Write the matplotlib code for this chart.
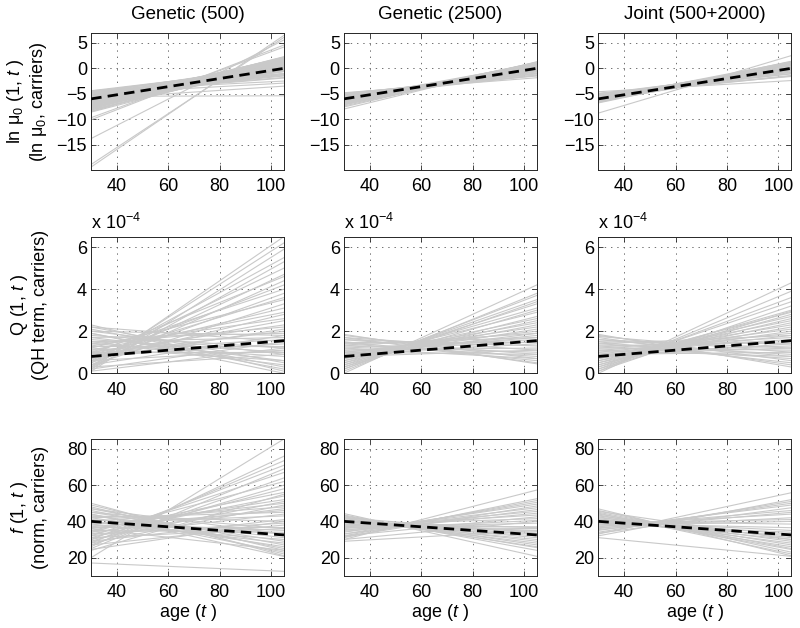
import numpy as np
import matplotlib
matplotlib.use("Agg")
import matplotlib.pyplot as plt
from matplotlib.ticker import FixedLocator

plt.rcParams['font.family'] = ['Liberation Sans', 'DejaVu Sans']
plt.rcParams['mathtext.fontset'] = 'custom'
plt.rcParams['mathtext.rm'] = 'Liberation Sans'
plt.rcParams['mathtext.it'] = 'Liberation Sans:italic'
plt.rcParams['lines.scale_dashes'] = False

# ---------------- data ----------------
age_range = [30, 105]
column_titles = ["Genetic (500)", "Genetic (2500)", "Joint (500+2000)"]

# true trajectories (value at age 30, value at age 105)
true_lnmu = [-6.0, 0.0]
true_q = [0.8, 1.55]          # in units of 1e-4
true_f = [40.0, 32.5]

# ---- ln mu0, Genetic (500): start (age 30), end (age 105)
lnmu_g500_start = [-4.4, -4.6, -4.8, -5.0, -5.2, -5.3, -5.5, -5.6, -5.8, -5.9, -6.0, -6.2,
                   -6.3, -6.4, -6.6, -6.7, -6.9, -7.0, -7.1, -7.3, -7.4, -7.6, -7.7, -7.9,
                   -8.0, -8.2, -8.4, -8.6, -4.5, -4.9, -5.1, -5.4, -5.7, -6.1, -6.5, -6.8,
                   -7.2, -7.5, -7.8, -8.1, -4.7, -5.0, -6.2, -7.0, -8.5, -5.5, -6.5, -4.6,
                   -7.3, -19.4, -18.9, -13.8, -10.1, -9.7, -5.5, -4.4, -5.0, -6.0]
lnmu_g500_end = [0.1, -1.0, -1.8, -0.6, 0.4, -1.5, 0.9, -0.3, -1.2, 1.3, 0.2, -0.6,
                 1.6, -0.1, 0.7, -0.6, 1.9, 0.3, -0.2, 1.1, 2.3, 0.4, 1.5, 0.9,
                 2.0, 0.8, 1.7, 1.2, -0.4, 0.8, -1.2, 1.1, 0.5, 1.0, 2.1, -0.4,
                 1.4, 0.6, 1.8, 0.6, -1.4, -1.9, 1.8, 2.2, 2.2, -1.0, 0.0, 0.3,
                 -0.3, 6.5, 6.1, 5.6, 4.6, 4.2, -5.4, -2.5, -2.9, -3.5]

# ---- ln mu0, Genetic (2500)
lnmu_g2500_start = [-4.9, -5.0, -5.1, -5.2, -5.3, -5.4, -5.5, -5.6, -5.7, -5.8, -5.9, -6.0,
                    -6.1, -6.2, -6.3, -6.4, -6.5, -6.6, -6.7, -6.8, -6.9, -7.0, -7.1, -7.2,
                    -7.4, -7.6, -5.8, -6.0, -5.5, -6.3, -6.6, -7.0, -8.0, -4.8]
lnmu_g2500_end = [-1.5, -1.0, -1.3, -0.6, -1.1, -0.3, -0.9, -1.4, 0.0, -0.7, 0.3, -0.4,
                  0.5, -0.6, 0.2, 0.8, -0.1, 0.6, 1.0, 0.4, 1.2, 0.9, 0.7, 1.1,
                  1.0, 1.2, 0.1, 0.9, -0.2, -0.5, 1.1, 0.2, 1.3, -1.85]

# ---- ln mu0, Joint (500+2000)
lnmu_joint_start = [-4.9, -5.0, -5.1, -5.2, -5.3, -5.4, -5.5, -5.6, -5.7, -5.8, -5.9, -6.0,
                    -6.1, -6.2, -6.3, -6.4, -6.5, -6.6, -6.7, -6.8, -5.2, -5.6, -6.0, -5.4,
                    -6.3, -5.8, -6.5, -5.0, -8.8, -4.6]
lnmu_joint_end = [-1.6, -1.1, -0.7, -1.4, -0.4, -1.0, -0.2, -0.8, 0.2, -0.5, 0.5, -0.1,
                  0.8, 0.3, 1.0, 0.6, 1.2, 0.9, 1.4, 1.1, 0.0, 0.7, 1.3, -1.5,
                  -0.3, 0.9, 0.1, -0.3, 2.5, -2.4]

# ---- Q (x 1e-4), Genetic (500)
q_g500_start = [0.2, 0.3, 0.1, 0.5, 0.2, 0.6, 0.4, 0.9, 0.3, 0.7, 1.0, 0.5, 0.8, 1.2, 0.4,
                0.9, 1.1, 0.6, 1.3, 0.8, 1.0, 1.4, 0.7,
                2.3, 2.2, 2.1, 2.0, 1.9, 1.8, 1.7, 2.2, 1.6, 1.5, 2.0, 1.4, 1.3, 1.2,
                1.1, 1.0, 0.9, 1.7, 0.8, 1.5, 0.6, 0.4, 0.2, 0.3, 0.1, 1.9]
q_g500_end = [6.5, 6.2, 5.9, 5.5, 5.3, 5.0, 4.7, 4.6, 4.4, 4.2, 4.0, 3.8, 3.6, 3.5, 3.3,
              3.1, 2.9, 2.8, 2.6, 2.5, 2.3, 2.2, 2.1,
              0.1, 0.5, 0.3, 0.9, 0.2, 1.2, 0.6, 1.5, 1.0, 0.4, 1.8, 0.8, 1.3, 0.6,
              1.6, 1.0, 2.0, 1.9, 1.4, 1.7, 1.1, 1.8, 1.5, 0.9, 1.2, 0.0]

# ---- Q (x 1e-4), Genetic (2500)
q_g2500_start = [0.0, 0.1, 0.2, 0.3, 0.2, 0.4, 0.5, 0.3, 0.6, 0.4, 0.7, 0.5, 0.8, 0.6,
                 0.9, 0.7, 1.0, 0.8, 0.9,
                 1.85, 1.8, 1.7, 1.6, 1.5, 1.7, 1.4, 1.6, 1.3, 1.2, 1.5, 1.1, 1.0, 1.2,
                 0.9, 1.4, 0.8, 1.3, 1.1, 1.0]
q_g2500_end = [4.2, 3.8, 3.7, 3.5, 3.4, 3.3, 3.1, 3.0, 2.9, 2.7, 2.6, 2.5, 2.4, 2.3,
               2.2, 2.1, 2.0, 1.9, 1.8,
               0.45, 0.7, 0.5, 0.9, 0.6, 1.1, 0.8, 1.3, 1.0, 0.7, 1.5, 1.2, 0.9, 1.6,
               1.4, 1.7, 1.1, 1.9, 1.5, 1.7]

# ---- Q (x 1e-4), Joint (500+2000)
q_joint_start = [0.0, 0.1, 0.2, 0.3, 0.1, 0.4, 0.2, 0.5, 0.3, 0.6, 0.4, 0.7, 0.5, 0.8,
                 0.6, 0.9, 0.7, 1.0, 0.8,
                 1.85, 1.8, 1.7, 1.6, 1.75, 1.5, 1.4, 1.6, 1.3, 1.2, 1.5, 1.1, 1.0, 1.3,
                 0.9, 1.2, 0.8, 1.4, 1.1, 0.9]
q_joint_end = [4.3, 3.9, 3.6, 3.4, 3.2, 3.0, 2.95, 2.9, 2.8, 2.7, 2.6, 2.5, 2.4, 2.3,
               2.2, 2.1, 2.0, 1.9, 1.8,
               0.3, 0.6, 0.4, 0.8, 1.0, 0.5, 0.9, 1.2, 0.7, 1.1, 1.4, 0.8, 1.3, 1.5,
               1.0, 1.7, 1.4, 1.8, 1.6, 1.2]

# ---- f, Genetic (500)
f_g500_start = [20, 26, 28, 30, 25, 32, 27, 34, 29, 31, 35, 24, 33, 36, 30, 38, 28, 40,
                34, 37, 42, 32, 39,
                50, 49, 48, 47, 46, 45, 44, 43, 42, 41, 40, 39, 38, 37, 36, 35, 33, 31,
                29, 27, 24.5, 47, 45, 43, 44, 17]
f_g500_end = [85.5, 76, 73.5, 71, 69, 67, 64, 62, 60, 58, 56, 55, 54, 52, 51, 50, 49, 48,
              47, 46, 45, 44, 43,
              21, 24, 22, 27, 25, 29, 23, 31, 26, 33, 28, 35, 30, 37, 24, 34, 39, 36,
              41, 38, 40, 33, 36, 40, 20.6, 12.4]

# ---- f, Genetic (2500)
f_g2500_start = [30, 31, 32, 33, 34, 31.5, 35, 33, 36, 34.5, 37, 32, 38, 35.5, 36.5,
                 44.3, 43.5, 43, 42.5, 42, 41.5, 41, 40.5, 40, 39.5, 39, 38.5, 38, 37.5,
                 37, 42, 40, 29, 30]
f_g2500_end = [57.3, 52.5, 51.5, 50.5, 49.5, 48.5, 47.5, 46.5, 45.5, 44.5, 43.5, 42.5,
               41.5, 40.5, 39,
               20.7, 24, 25.5, 27, 26, 29, 28, 31, 30, 33, 32, 35, 34.5, 37,
               36, 33.5, 36.5, 35, 40]

# ---- f, Joint (500+2000)
f_joint_start = [33, 32, 34, 35, 36, 33.5, 37, 35.5, 38, 36.5, 39, 37.5, 40,
                 46.9, 46, 45, 44.5, 44, 43.5, 43, 42.5, 42, 41.5, 41, 40.5, 40, 39.5,
                 39, 38.5, 45.5, 31]
f_joint_end = [55.8, 52, 51, 50, 49, 47.5, 46, 45, 44, 42, 41, 40, 38.5,
               21, 23, 25, 22, 27, 24.5, 29, 26, 31, 28, 33, 30, 35, 32,
               36.5, 34, 30, 20.7]

row_start = [[lnmu_g500_start, lnmu_g2500_start, lnmu_joint_start],
             [q_g500_start, q_g2500_start, q_joint_start],
             [f_g500_start, f_g2500_start, f_joint_start]]
row_end = [[lnmu_g500_end, lnmu_g2500_end, lnmu_joint_end],
           [q_g500_end, q_g2500_end, q_joint_end],
           [f_g500_end, f_g2500_end, f_joint_end]]
row_true = [true_lnmu, true_q, true_f]

row_ylabels = ["ln \u03bc$_0$ (1, $t$ )\n(ln \u03bc$_0$, carriers)",
               "Q (1, $t$ )\n(QH term, carriers)",
               "$f$ (1, $t$ )\n(norm, carriers)"]
row_ylim = [(-20, 6.9), (0, 6.5), (10, 85.5)]
row_yticks = [[-15, -10, -5, 0, 5], [0, 2, 4, 6], [20, 40, 60, 80]]
row_ytlabels = [["\u221215", "\u221210", "\u22125", "0", "5"],
                ["0", "2", "4", "6"], ["20", "40", "60", "80"]]
xticks = [40, 60, 80, 100]
xlabel = "age ($t$ )"

# ---------------- layout ----------------
fig = plt.figure(figsize=(8.0, 6.28), dpi=100)
lefts = [0.114, 0.430, 0.748]
bottoms = [0.7293, 0.4056, 0.0833]
w, h = 0.241, 0.2177

gray = (0.79, 0.79, 0.79)
for r in range(3):
    for c in range(3):
        ax = fig.add_axes([lefts[c], bottoms[r], w, h])
        st = row_start[r][c]
        en = row_end[r][c]
        for s, e in zip(st, en):
            ax.plot(age_range, [s, e], color=gray, lw=0.8, zorder=2)
        ax.plot(age_range, row_true[r], color='black', lw=2.0,
                dashes=(7.5, 4.5), zorder=3)
        ax.set_xlim(age_range[0], age_range[1])
        ax.set_ylim(*row_ylim[r])
        ax.xaxis.set_major_locator(FixedLocator(xticks))
        ax.set_xticklabels([str(x) for x in xticks])
        ax.yaxis.set_major_locator(FixedLocator(row_yticks[r]))
        ax.set_yticklabels(row_ytlabels[r])
        ax.tick_params(direction='in', top=True, right=True, length=3.5,
                       width=0.6, labelsize=13, color='0.15')
        ax.tick_params(axis='x', pad=6)
        ax.tick_params(axis='y', pad=3)
        ax.grid(True, color='0.35', linestyle=(0, (1, 3.5)), lw=0.6)
        ax.set_axisbelow(True)
        for sp in ax.spines.values():
            sp.set_linewidth(0.7)
            sp.set_color('0.15')
        if r == 0:
            ax.set_title(column_titles[c], fontsize=13.5, pad=10)
        if r == 1:
            ax.text(0.0, 1.025, "x 10$^{-4}$", transform=ax.transAxes,
                    ha='left', va='bottom', fontsize=13)
        if r == 2:
            ax.set_xlabel(xlabel, fontsize=13, labelpad=1)
        if c == 0:
            ax.set_ylabel(row_ylabels[r], fontsize=13, linespacing=1.15)
            ax.yaxis.set_label_coords(-0.22, 0.5)

fig.savefig("out.png", dpi=100)
